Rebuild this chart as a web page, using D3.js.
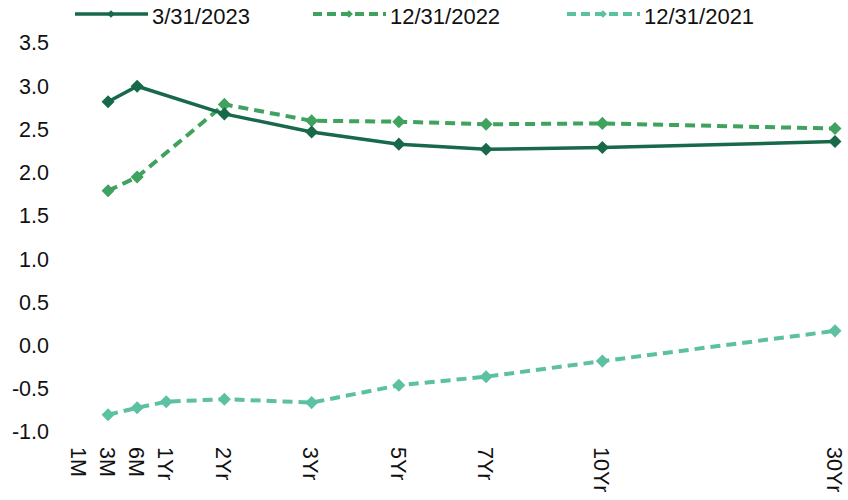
<!DOCTYPE html>
<html>
<head>
<meta charset="utf-8">
<script src="https://cdn.jsdelivr.net/npm/d3@7"></script>
<style>
  body { margin: 0; background: #fff; }
  svg { font-family: "Liberation Sans", Arial, sans-serif; }
</style>
</head>
<body>
<div id="chart"></div>
<script>
// tenor labels and their slot on the category axis (Excel-style uneven spacing)
const tenors = ["1M", "3M", "6M", "1Yr", "2Yr", "3Yr", "5Yr", "7Yr", "10Yr", "30Yr"];
const tenorSlots = [0, 1, 2, 3, 5, 8, 11, 14, 18, 26];

// yields in %, null where no point
const mar2023 = [null, 2.82, 3.00, null, 2.68, 2.47, 2.33, 2.27, 2.29, 2.36];
const dec2022 = [null, 1.79, 1.95, null, 2.79, 2.60, 2.59, 2.56, 2.57, 2.51];
const dec2021 = [null, -0.80, -0.72, -0.65, -0.62, -0.66, -0.46, -0.36, -0.18, 0.17];

const yTicks = [-1.0, -0.5, 0.0, 0.5, 1.0, 1.5, 2.0, 2.5, 3.0, 3.5];

const series = [
  {name: "3/31/2023", values: mar2023, color: "#17694a", dash: null},
  {name: "12/31/2022", values: dec2022, color: "#3fa25e", dash: "10,6"},
  {name: "12/31/2021", values: dec2021, color: "#5cc0a2", dash: "10,6"}
];

const W = 848, H = 500;
const margin = {top: 43, right: 13, bottom: 68, left: 79};

const svg = d3.select("#chart").append("svg")
  .attr("width", W)
  .attr("height", H);

const x = d3.scaleLinear()
  .domain([0, d3.max(tenorSlots)])
  .range([margin.left, W - margin.right]);

const y = d3.scaleLinear()
  .domain([-1, 3.5])
  .range([H - margin.bottom, margin.top]);

// y axis labels (plain hyphen for negatives, like the source)
const yAxis = d3.axisLeft(y)
  .tickValues(yTicks)
  .tickFormat(d => d.toFixed(1))
  .tickSize(0)
  .tickPadding(0);

const yg = svg.append("g")
  .attr("transform", `translate(49,0)`)
  .call(yAxis);
yg.select(".domain").remove();
yg.selectAll("text")
  .attr("fill", "#111")
  .style("font-size", "21.5px")
  .attr("font-family", null);

// x axis labels, rotated to read top to bottom
const xAxis = d3.axisBottom(x)
  .tickValues(tenorSlots)
  .tickFormat((d, i) => tenors[i])
  .tickSize(0);

const xg = svg.append("g")
  .attr("transform", `translate(-1,${H - 53})`)
  .call(xAxis);
xg.select(".domain").remove();
xg.selectAll("text")
  .attr("fill", "#111")
  .style("font-size", "21.5px")
  .attr("font-family", null)
  .attr("text-anchor", "start")
  .attr("y", 0)
  .attr("dy", "0.36em")
  .attr("transform", "rotate(90)");

const line = d3.line()
  .defined(d => d.v !== null)
  .x(d => x(d.slot))
  .y(d => y(d.v));

const diamond = d3.symbol().type(d3.symbolSquare).size(85);

// draw back to front: oldest first
series.slice().reverse().forEach(s => {
  const pts = s.values.map((v, i) => ({v: v, slot: tenorSlots[i]})).filter(d => d.v !== null);

  svg.append("path")
    .datum(pts)
    .attr("fill", "none")
    .attr("stroke", s.color)
    .attr("stroke-width", s.dash ? 4 : 3.5)
    .attr("stroke-dasharray", s.dash)
    .attr("d", line);

  svg.selectAll(null)
    .data(pts)
    .enter().append("path")
    .attr("d", diamond)
    .attr("fill", s.color)
    .attr("transform", d => `translate(${x(d.slot)},${y(d.v)}) rotate(45)`);
});

// legend
const legendX = [75, 313, 567];
const legend = svg.append("g");
series.forEach((s, i) => {
  const g = legend.append("g").attr("transform", `translate(${legendX[i]},14)`);
  g.append("line")
    .attr("x1", 0).attr("x2", 73)
    .attr("stroke", s.color)
    .attr("stroke-width", s.dash ? 4 : 3.5)
    .attr("stroke-dasharray", s.dash ? "9,5" : null);
  g.append("path")
    .attr("d", d3.symbol().type(d3.symbolSquare).size(30))
    .attr("fill", s.color)
    .attr("transform", "translate(36,0) rotate(45)");
  g.append("text")
    .attr("x", 77)
    .attr("y", 2)
    .attr("dy", "0.35em")
    .attr("fill", "#111")
    .style("font-size", "22px")
    .text(s.name);
});
</script>
</body>
</html>
